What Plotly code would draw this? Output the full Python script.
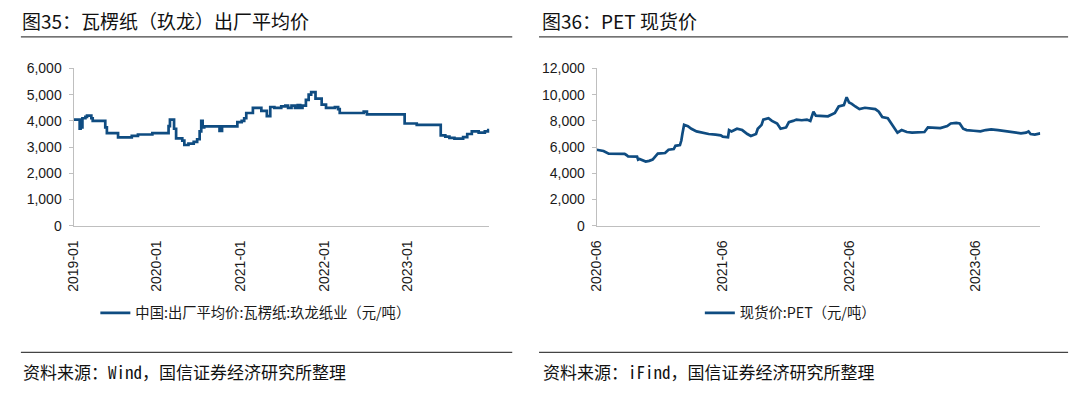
import plotly.graph_objects as go

# ---------------- data ----------------
paper_dates = ['2019-01-01','2019-01-28','2019-02-01','2019-02-05','2019-02-09','2019-02-22','2019-03-01',
               '2019-03-20','2019-03-26','2019-05-20','2019-05-27','2019-07-15','2019-09-13','2019-10-10',
               '2019-12-12','2020-02-21','2020-02-27','2020-03-16','2020-03-25','2020-04-21','2020-04-30',
               '2020-05-18','2020-06-10','2020-06-25','2020-07-06','2020-07-13','2020-07-19','2020-07-26',
               '2020-10-01','2020-10-12','2020-12-18','2021-01-06','2021-01-17','2021-01-26','2021-02-24',
               '2021-04-02','2021-04-26','2021-05-11','2021-05-29','2021-06-28','2021-07-16','2021-07-28',
               '2021-08-12','2021-08-27','2021-09-08','2021-09-19','2021-09-29','2021-10-14','2021-10-26',
               '2021-11-06','2021-11-25','2021-12-22','2022-01-10','2022-02-18','2022-03-04','2022-03-11',
               '2022-06-24','2022-07-08','2022-12-20','2023-02-11','2023-05-27','2023-06-16','2023-07-04',
               '2023-07-26','2023-09-02','2023-09-20','2023-10-10','2023-11-09','2023-12-06','2023-12-21',
               '2023-12-26']
paper_values = [4050, 3700, 4050, 3750, 4100, 4150, 4200,
                4100, 4000, 3750, 3530, 3370, 3430, 3480,
                3530, 3800, 4050, 3700, 3330, 3250, 3080,
                3130, 3200, 3300, 3600, 4000, 3750, 3790,
                3620, 3790, 3950, 4000, 4100, 4300, 4500,
                4380, 4180, 4530, 4500, 4550, 4580, 4500,
                4580, 4500, 4600, 4500, 4580, 4800, 5000,
                5100, 4850, 4620, 4500, 4530, 4450, 4300,
                4350, 4250, 3900, 3850, 3450, 3400, 3350,
                3320, 3380, 3500, 3600, 3550, 3600, 3650,
                3650]

pet_dates = ['2020-06-01','2020-06-11','2020-06-21','2020-07-06','2020-08-21','2020-08-26','2020-08-31',
             '2020-09-26','2020-09-29','2020-10-03','2020-10-11','2020-10-21','2020-10-31','2020-11-10',
             '2020-11-18','2020-11-25','2020-12-16','2020-12-26','2021-01-10','2021-01-15','2021-01-28',
             '2021-02-01','2021-02-04','2021-02-09','2021-02-20','2021-03-02','2021-03-17','2021-04-01',
             '2021-04-21','2021-05-11','2021-05-26','2021-06-01','2021-06-16','2021-06-19','2021-06-26',
             '2021-07-12','2021-07-27','2021-08-11','2021-08-21','2021-09-05','2021-09-10','2021-09-21',
             '2021-09-26','2021-10-11','2021-10-21','2021-11-05','2021-11-15','2021-12-01','2021-12-09',
             '2021-12-21','2021-12-31','2022-01-15','2022-01-30','2022-02-09','2022-02-18','2022-02-25',
             '2022-03-12','2022-04-01','2022-04-21','2022-05-02','2022-05-17','2022-05-25','2022-06-01',
             '2022-06-09','2022-06-19','2022-07-01','2022-07-17','2022-08-01','2022-08-16','2022-08-26',
             '2022-09-05','2022-09-21','2022-10-01','2022-10-11','2022-10-19','2022-10-31','2022-11-15',
             '2022-11-30','2022-12-21','2023-01-05','2023-01-15','2023-01-30','2023-02-20','2023-03-12',
             '2023-03-22','2023-04-07','2023-04-17','2023-04-27','2023-05-07','2023-05-27','2023-06-16',
             '2023-07-01','2023-07-17','2023-08-06','2023-08-21','2023-09-06','2023-09-26','2023-10-11',
             '2023-10-26','2023-11-02','2023-11-08','2023-11-20','2023-12-06']
pet_values = [5800, 5750, 5700, 5500, 5480, 5400, 5300,
              5280, 5050, 5100, 5000, 4900, 4950, 5050,
              5300, 5500, 5550, 5800, 5850, 6100, 6150,
              6500, 7000, 7700, 7600, 7400, 7200, 7100,
              7000, 6950, 6900, 6800, 6750, 7300, 7200,
              7400, 7300, 7000, 6850, 7000, 7400, 7700,
              8100, 8200, 8000, 7800, 7400, 7500, 7900,
              8000, 8100, 8050, 8100, 8000, 8700, 8400,
              8400, 8350, 8600, 9100, 9200, 9800, 9400,
              9300, 9100, 8900, 9000, 8950, 8900, 8700,
              8300, 8200, 7800, 7500, 7100, 7300, 7150,
              7100, 7100, 7150, 7500, 7500, 7450, 7600,
              7800, 7850, 7800, 7400, 7300, 7250, 7200,
              7300, 7350, 7300, 7250, 7200, 7150, 7050,
              7100, 7200, 7000, 6950, 7050]

left_tickvals = ['2019-01-01', '2020-01-01', '2021-01-01', '2022-01-01', '2023-01-01']
left_ticktext = ['2019-01', '2020-01', '2021-01', '2022-01', '2023-01']
right_tickvals = ['2020-06-01', '2021-06-01', '2022-06-01', '2023-06-01']
right_ticktext = ['2020-06', '2021-06', '2022-06', '2023-06']

left_title = '图35：瓦楞纸（玖龙）出厂平均价'
right_title = '图36：PET 现货价'
left_name = '中国:出厂平均价:瓦楞纸:玖龙纸业（元/吨）'
right_name = '现货价:PET（元/吨）'
left_source = '资料来源：Wind，国信证券经济研究所整理'
right_source = '资料来源：iFind，国信证券经济研究所整理'

# ---------------- figure ----------------
W, H = 1080, 394
LINE = '#0F4C81'
AXIS = '#BFBFBF'
TICKFONT = dict(family='Liberation Sans, Arial, sans-serif', size=14, color='#1a1a1a')
CJK = 'Noto Sans CJK SC, sans-serif'
MONO = 'Noto Sans Mono CJK SC, Noto Sans CJK SC, monospace'

def px(x):
    return x / W

def py(y):
    return 1 - y / H

fig = go.Figure()
fig.add_trace(go.Scatter(x=paper_dates, y=paper_values, mode='lines', line_shape='hv',
                         line=dict(color=LINE, width=2.7), name=left_name,
                         xaxis='x', yaxis='y', legend='legend'))
fig.add_trace(go.Scatter(x=pet_dates, y=pet_values, mode='lines',
                         line=dict(color=LINE, width=2.7), name=right_name,
                         xaxis='x2', yaxis='y2', legend='legend2'))

common_y = dict(showgrid=False, zeroline=False, showline=True, linecolor=AXIS, linewidth=1,
                ticks='outside', ticklen=4, tickcolor=AXIS, tickfont=TICKFONT,
                tickformat=',d', ticklabelstandoff=4)
common_x = dict(showgrid=False, zeroline=False, showline=True, linecolor=AXIS, linewidth=1,
                ticks='', tickangle=-90, tickfont=TICKFONT, type='date', ticklabelstandoff=8)

fig.update_layout(
    width=W, height=H,
    margin=dict(l=0, r=0, t=0, b=0),
    paper_bgcolor='white', plot_bgcolor='white',
    xaxis=dict(domain=[px(66), px(485)], range=['2019-01-01', '2023-12-26'],
               tickmode='array', tickvals=left_tickvals, ticktext=left_ticktext, anchor='y', **common_x),
    yaxis=dict(domain=[py(227), py(63)], range=[0, 6000], dtick=1000, anchor='x', **common_y),
    xaxis2=dict(domain=[px(593), px(1040)], range=['2020-06-01', '2023-12-06'],
                tickmode='array', tickvals=right_tickvals, ticktext=right_ticktext, anchor='y2', **common_x),
    yaxis2=dict(domain=[py(227), py(63)], range=[0, 12000], dtick=2000, anchor='x2', **common_y),
    legend=dict(x=px(88), y=py(318), xanchor='left', yanchor='middle', bgcolor='rgba(0,0,0,0)',
                font=dict(family=CJK, size=14.3, color='#1a1a1a')),
    legend2=dict(x=px(697), y=py(318), xanchor='left', yanchor='middle', bgcolor='rgba(0,0,0,0)',
                 font=dict(family=CJK, size=14.3, color='#1a1a1a')),
    showlegend=True,
)

annots = [
    dict(text=left_title, x=px(12), y=py(13), font=dict(family=CJK, size=19, color='#111111')),
    dict(text=right_title, x=px(536), y=py(13), font=dict(family=CJK, size=19, color='#111111')),
    dict(text=left_source, x=px(13), y=py(379), font=dict(family=MONO, size=17, color='#111111')),
    dict(text=right_source, x=px(537), y=py(379), font=dict(family=MONO, size=17, color='#111111')),
]
for a in annots:
    fig.add_annotation(xref='paper', yref='paper', xanchor='left', yanchor='middle',
                       showarrow=False, **a)

for (x0, x1) in [(13, 508), (535, 1068)]:
    for yy in (30, 359):
        fig.add_shape(type='line', xref='paper', yref='paper', x0=px(x0), x1=px(x1),
                      y0=py(yy), y1=py(yy), line=dict(color='#444444', width=1.2))

fig.write_html('out.html',
               config={'displayModeBar': False, 'staticPlot': True},
               post_script="document.body.style.margin='0px';document.body.style.overflow='hidden';")
